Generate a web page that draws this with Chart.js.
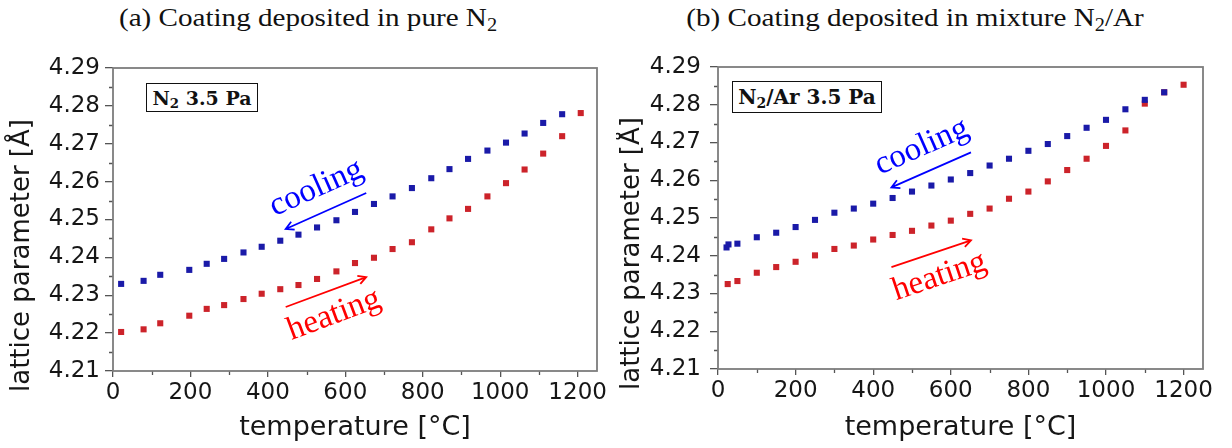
<!DOCTYPE html>
<html lang="en">
<head>
<meta charset="utf-8">
<title>Lattice parameter vs temperature</title>
<script src="https://cdn.jsdelivr.net/npm/chart.js@4.4.1/dist/chart.umd.min.js"></script>
<style>
    html, body { margin: 0; padding: 0; background: #fff; }
    body { position: relative; width: 1232px; height: 448px; overflow: hidden; }
    .painel { position: absolute; top: 40px; }
    .titulo {
        position: absolute; top: 3px; white-space: nowrap;
        font-family: 'Liberation Serif', serif; font-size: 26px; line-height: 30px; color: #111;
        transform: translateX(-50%) scaleX(1.12);
    }
    .titulo sub, .caixa sub { font-size: 0.7em; vertical-align: -0.25em; line-height: 0; }
    .caixa {
        position: absolute; box-sizing: border-box; border: 1.5px solid #111; background: #fff;
        font-family: 'DejaVu Serif', serif; font-weight: bold; color: #111;
        display: flex; align-items: center; justify-content: center; white-space: nowrap;
    }
</style>
</head>
<body>
<div class="titulo" style="left:308px">(a) Coating deposited in pure N<sub>2</sub></div>
<div class="titulo" style="left:915px">(b) Coating deposited in mixture N<sub>2</sub>/Ar</div>

<canvas id="graficoA" class="painel" width="616" height="408" style="left:0"></canvas>
<canvas id="graficoB" class="painel" width="616" height="408" style="left:616px"></canvas>

<div class="caixa" style="left:146px;top:83px;width:112px;height:29px;font-size:19px"><span>N<sub>2</sub>&nbsp;3.5 Pa</span></div>
<div class="caixa" style="left:732px;top:81px;width:150px;height:32px;font-size:20px"><span>N<sub>2</sub>/Ar 3.5 Pa</span></div>

<script>
// (a) revestimento depositado em N2 puro
const tempA_resf = [21, 79, 122, 197, 242, 287, 337, 384, 432, 479, 527, 577, 625, 674, 722, 772, 822, 869, 917, 967, 1015, 1063, 1111, 1160];
const redeA_resf = [4.2330, 4.2338, 4.2354, 4.2367, 4.2383, 4.2396, 4.2413, 4.2428, 4.2444, 4.2460, 4.2479, 4.2498,
                    4.2520, 4.2541, 4.2561, 4.2583, 4.2609, 4.2633, 4.2660, 4.2682, 4.2703, 4.2727, 4.2755, 4.2778];
const tempA_aq = [21, 79, 122, 197, 242, 287, 337, 384, 432, 479, 527, 577, 625, 674, 722, 772, 822, 869, 917, 967, 1015, 1063, 1111, 1160, 1208];
const redeA_aq = [4.2203, 4.2210, 4.2226, 4.2246, 4.2264, 4.2274, 4.2290, 4.2304, 4.2316, 4.2327, 4.2343, 4.2363,
                  4.2385, 4.2399, 4.2422, 4.2440, 4.2474, 4.2503, 4.2528, 4.2561, 4.2596, 4.2632, 4.2674, 4.2720, 4.2781];

// (b) revestimento depositado na mistura N2/Ar
const tempB_resf = [22, 27, 50, 100, 150, 200, 250, 300, 350, 400, 450, 500, 550, 600, 650, 700, 750, 800, 850, 900, 950, 1000, 1050, 1100, 1150];
const redeB_resf = [4.2422, 4.2430, 4.2432, 4.2449, 4.2461, 4.2476, 4.2495, 4.2514, 4.2525, 4.2538, 4.2553, 4.2570, 4.2586,
                    4.2602, 4.2619, 4.2639, 4.2657, 4.2678, 4.2696, 4.2717, 4.2739, 4.2760, 4.2788, 4.2813, 4.2833];
const tempB_aq = [25, 50, 100, 150, 200, 250, 300, 350, 400, 450, 500, 550, 600, 650, 700, 750, 800, 850, 900, 950, 1000, 1050, 1100, 1150, 1200];
const redeB_aq = [4.2325, 4.2333, 4.2355, 4.2370, 4.2384, 4.2401, 4.2418, 4.2427, 4.2443, 4.2455, 4.2466, 4.2480, 4.2493,
                  4.2511, 4.2525, 4.2551, 4.2570, 4.2597, 4.2627, 4.2657, 4.2691, 4.2732, 4.2803, 4.2833, 4.2853];

// Eixos
const limitesX = [0, 1250];
const limitesY = [4.21, 4.29];
const passoX = 200;
const passoY = 0.01;
const tituloX = 'temperature [°C]';
const tituloY = 'lattice parameter [Å]';

const AZUL = '#1a1aa8';
const VERMELHO = '#cc232a';
const TEXTO = '#161616';

// Moldura, ticks menores, título do eixo Y e setas
const moldura = {
    id: 'moldura',
    afterDraw: function(chart, args, opts) {
        const { ctx, chartArea: a, scales: { x, y } } = chart;
        ctx.save();

        ctx.strokeStyle = '#555';
        ctx.lineWidth = 1.3;
        ctx.beginPath();
        for (let v = limitesY[0] + passoY / 2; v < limitesY[1]; v += passoY) {
            const py = Math.round(y.getPixelForValue(v)) + 0.5;
            ctx.moveTo(a.left - 4, py);
            ctx.lineTo(a.left, py);
        }
        for (let v = passoX / 2; v < limitesX[1]; v += passoX) {
            const px = Math.round(x.getPixelForValue(v)) + 0.5;
            ctx.moveTo(px, a.bottom);
            ctx.lineTo(px, a.bottom + 4);
        }
        ctx.stroke();

        ctx.strokeStyle = '#7d7d7d';
        ctx.lineWidth = 1.8;
        ctx.strokeRect(a.left, a.top, a.right - a.left, a.bottom - a.top);

        // título Y começa um pouco abaixo da área do gráfico
        ctx.save();
        ctx.translate(opts.tituloX, a.bottom + 21);
        ctx.rotate(-Math.PI / 2);
        ctx.font = '26px "DejaVu Sans"';
        ctx.fillStyle = TEXTO;
        ctx.textAlign = 'left';
        ctx.textBaseline = 'middle';
        ctx.fillText(tituloY, 0, 0);
        ctx.restore();

        opts.setas.forEach(s => {
            const x0 = x.getPixelForValue(s.de[0]), y0 = y.getPixelForValue(s.de[1]);
            const x1 = x.getPixelForValue(s.para[0]), y1 = y.getPixelForValue(s.para[1]);
            const ang = Math.atan2(y1 - y0, x1 - x0);

            ctx.strokeStyle = s.cor;
            ctx.lineWidth = 1.8;
            ctx.beginPath();
            ctx.moveTo(x0, y0);
            ctx.lineTo(x1, y1);
            ctx.moveTo(x1 - 9 * Math.cos(ang - 0.5), y1 - 9 * Math.sin(ang - 0.5));
            ctx.lineTo(x1, y1);
            ctx.lineTo(x1 - 9 * Math.cos(ang + 0.5), y1 - 9 * Math.sin(ang + 0.5));
            ctx.stroke();

            const mx = (x0 + x1) / 2 + s.desloc[0];
            const my = (y0 + y1) / 2 + s.desloc[1];
            ctx.save();
            ctx.translate(mx, my);
            ctx.rotate(Math.atan2(-Math.abs(y1 - y0), Math.abs(x1 - x0)));
            ctx.font = '33px "Liberation Serif"';
            ctx.fillStyle = s.cor;
            ctx.textAlign = 'center';
            ctx.textBaseline = 'alphabetic';
            ctx.fillText(s.texto, 0, 0);
            ctx.restore();
        });

        ctx.restore();
    }
};

const Rede = {
    charts: [],

    init: function() {
        this.renderizar('graficoA', {
            resf: { x: tempA_resf, y: redeA_resf },
            aq: { x: tempA_aq, y: redeA_aq },
            padding: { top: 28, right: 19, left: 0, bottom: 0 },
            larguraY: 113, alturaX: 77, padTickY: 5, tituloX: 22,
            setas: [
                { de: [654, 4.2570], para: [446, 4.2475], cor: '#0000ff', texto: 'cooling', desloc: [-6, -15] },
                { de: [446, 4.2269], para: [654, 4.2348], cor: '#ff0000', texto: 'heating', desloc: [11, 31] }
            ]
        });
        this.renderizar('graficoB', {
            resf: { x: tempB_resf, y: redeB_resf },
            aq: { x: tempB_aq, y: redeB_aq },
            padding: { top: 27, right: 29, left: 0, bottom: 0 },
            larguraY: 102, alturaX: 79, padTickY: 9, tituloX: 16,
            setas: [
                { de: [652, 4.2674], para: [447, 4.2581], cor: '#0000ff', texto: 'cooling', desloc: [-6, -15] },
                { de: [447, 4.2370], para: [652, 4.2441], cor: '#ff0000', texto: 'heating', desloc: [11, 31] }
            ]
        });
    },

    pontos: function(xs, ys) {
        return xs.map((v, i) => ({ x: v, y: ys[i] }));
    },

    renderizar: function(id, cfg) {
        const ctx = document.getElementById(id);
        if (!ctx) return;

        const fonteTick = { family: 'DejaVu Sans', size: 23 };

        this.charts.push(new Chart(ctx, {
            type: 'scatter',
            data: {
                datasets: [
                    {
                        label: 'cooling',
                        data: this.pontos(cfg.resf.x, cfg.resf.y),
                        backgroundColor: AZUL,
                        pointStyle: 'rect',
                        pointRadius: 4.3,
                        pointBorderWidth: 0
                    },
                    {
                        label: 'heating',
                        data: this.pontos(cfg.aq.x, cfg.aq.y),
                        backgroundColor: VERMELHO,
                        pointStyle: 'rect',
                        pointRadius: 4.3,
                        pointBorderWidth: 0
                    }
                ]
            },
            options: {
                responsive: false,
                animation: false,
                layout: { padding: cfg.padding },
                plugins: {
                    legend: { display: false },
                    tooltip: { enabled: false },
                    moldura: { tituloX: cfg.tituloX, setas: cfg.setas }
                },
                scales: {
                    x: {
                        type: 'linear',
                        min: limitesX[0],
                        max: limitesX[1],
                        ticks: {
                            stepSize: passoX, includeBounds: false, padding: 2, font: fonteTick, color: TEXTO, maxRotation: 0,
                            callback: v => String(v)
                        },
                        grid: { drawOnChartArea: false, tickLength: 6, color: '#555', lineWidth: 1.3 },
                        border: { display: false },
                        title: {
                            display: true, text: tituloX, color: TEXTO,
                            font: { family: 'DejaVu Sans', size: 27 }, padding: { top: 0, bottom: 4 }
                        },
                        afterFit: s => { s.height = cfg.alturaX; }
                    },
                    y: {
                        type: 'linear',
                        min: limitesY[0],
                        max: limitesY[1],
                        ticks: {
                            stepSize: passoY, padding: cfg.padTickY, font: fonteTick, color: TEXTO,
                            callback: v => v.toFixed(2)
                        },
                        grid: { drawOnChartArea: false, tickLength: 8, color: '#555', lineWidth: 1.3 },
                        border: { display: false },
                        afterFit: s => { s.width = cfg.larguraY; }
                    }
                }
            },
            plugins: [moldura]
        }));
    }
};

Rede.init();
</script>
</body>
</html>
